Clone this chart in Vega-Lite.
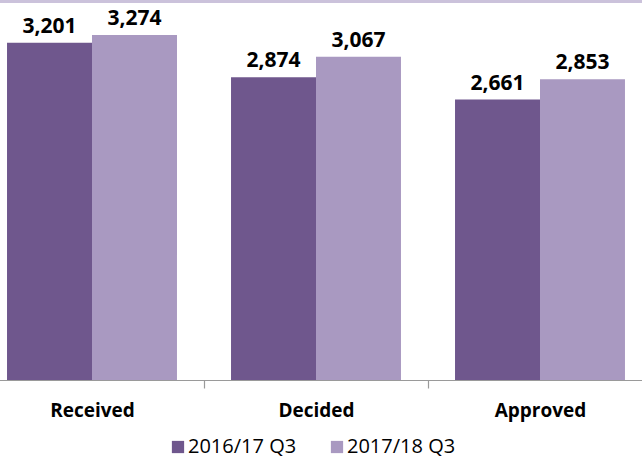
{
  "$schema": "https://vega.github.io/schema/vega-lite/v6.json",
  "width": 642,
  "height": 380,
  "autosize": {"type": "none"},
  "padding": {"left": 0, "top": 0, "right": 0, "bottom": 79},
  "background": "white",
  "config": {
    "view": {"stroke": null},
    "font": "Open Sans"
  },
  "data": {
    "values": [
      {"category": "Received", "period": "2016/17 Q3", "value": 3201},
      {"category": "Received", "period": "2017/18 Q3", "value": 3274},
      {"category": "Decided", "period": "2016/17 Q3", "value": 2874},
      {"category": "Decided", "period": "2017/18 Q3", "value": 3067},
      {"category": "Approved", "period": "2016/17 Q3", "value": 2661},
      {"category": "Approved", "period": "2017/18 Q3", "value": 2853}
    ]
  },
  "layer": [
    {
      "mark": {"type": "rule", "color": "#CBC2DB", "strokeWidth": 6},
      "encoding": {"y": {"datum": 3606, "type": "quantitative", "scale": {"domain": [0, 3606], "nice": false, "zero": true}, "axis": null}}
    },
    {
      "mark": {"type": "bar"},
      "encoding": {
        "x": {
          "field": "category", "type": "nominal", "sort": ["Received", "Decided", "Approved"],
          "scale": {"range": [-20, 652], "paddingInner": 0, "paddingOuter": 0},
          "axis": {
            "title": null, "labelAngle": 0, "tickBand": "extent", "tickSize": 8,
            "domainColor": "#9A9A9A", "tickColor": "#9A9A9A", "domainWidth": 1.2, "tickWidth": 1.2,
            "labelFont": "Open Sans", "labelFontSize": 19, "labelFontWeight": "bold", "labelColor": "#000000",
            "labelBaseline": "middle", "labelPadding": 22
          }
        },
        "xOffset": {"field": "period", "type": "nominal", "scale": {"paddingInner": 0, "paddingOuter": 0.318}},
        "y": {"field": "value", "type": "quantitative", "scale": {"domain": [0, 3606], "nice": false}, "axis": null},
        "color": {
          "field": "period", "type": "nominal",
          "scale": {"range": ["#6F578D", "#A999C1"]},
          "legend": {
            "title": null, "orient": "none", "direction": "horizontal",
            "legendX": 168, "legendY": 437, "symbolType": "square", "symbolSize": 150,
            "symbolStrokeWidth": 0, "symbolOpacity": 1,
            "labelFont": "Open Sans", "labelFontSize": 20, "labelColor": "#000000",
            "labelOffset": 0, "columnPadding": 30
          }
        }
      }
    },
    {
      "mark": {"type": "text", "fontWeight": "bold", "fontSize": 21, "baseline": "alphabetic", "dy": -10, "color": "#000000"},
      "encoding": {
        "x": {"field": "category", "type": "nominal", "sort": ["Received", "Decided", "Approved"]},
        "xOffset": {"field": "period", "type": "nominal"},
        "y": {"field": "value", "type": "quantitative"},
        "text": {"field": "value", "type": "quantitative", "format": ","}
      }
    }
  ]
}
